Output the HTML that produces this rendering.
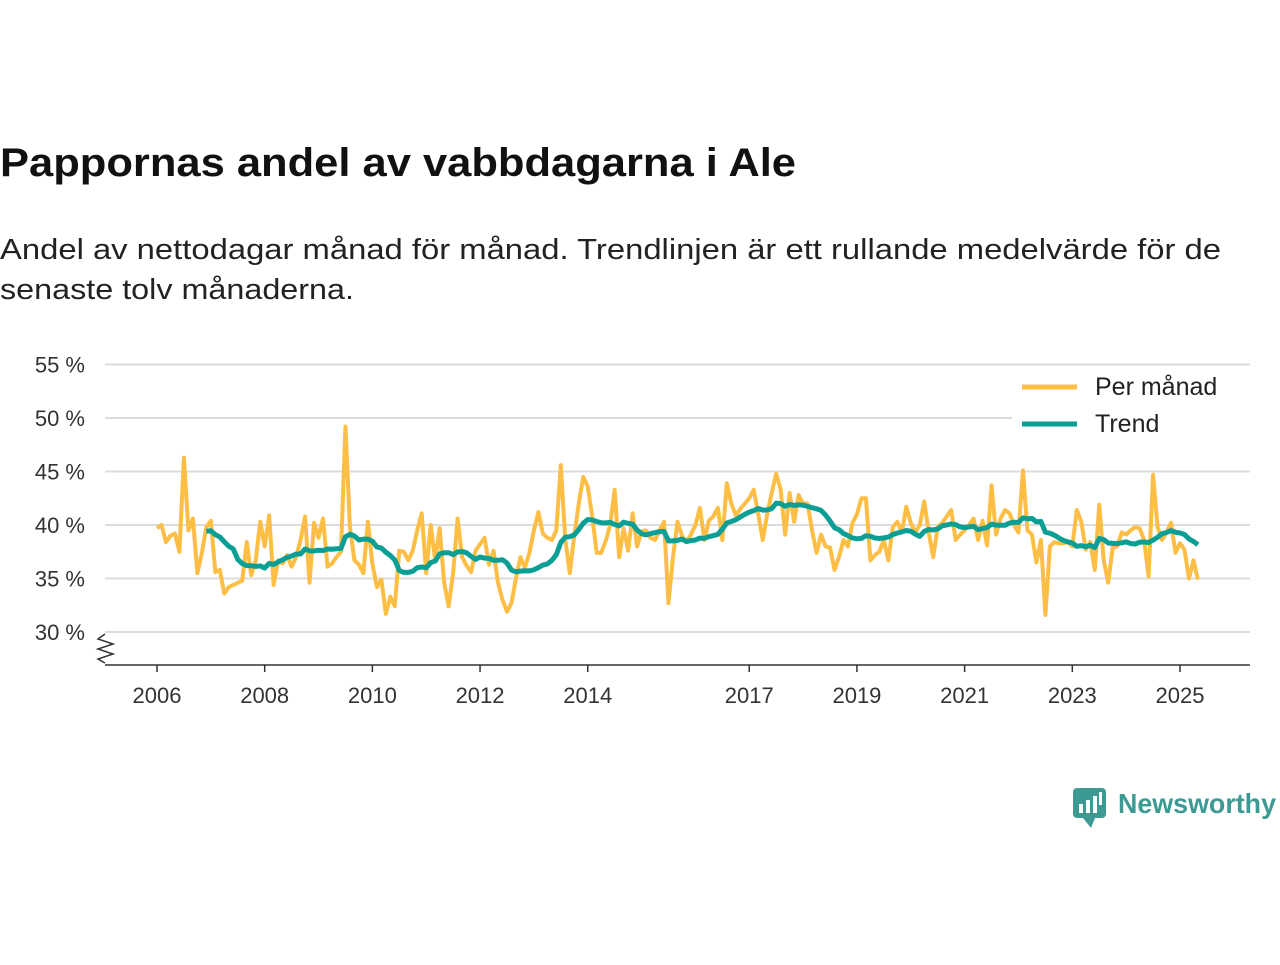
<!DOCTYPE html>
<html><head><meta charset="utf-8"><style>
body{margin:0;background:#fff;width:1280px;height:960px;overflow:hidden}
svg text{font-family:"Liberation Sans",sans-serif}
</style></head><body>
<svg id="chart" width="1280" height="960" xmlns="http://www.w3.org/2000/svg">
<text x="0" y="176" font-size="40" font-weight="bold" fill="#111" textLength="796" lengthAdjust="spacingAndGlyphs">Pappornas andel av vabbdagarna i Ale</text>
<text x="0" y="259" font-size="29" fill="#222" textLength="1221" lengthAdjust="spacingAndGlyphs">Andel av nettodagar månad för månad. Trendlinjen är ett rullande medelvärde för de</text>
<text x="0" y="299" font-size="29" fill="#222" textLength="354" lengthAdjust="spacingAndGlyphs">senaste tolv månaderna.</text>
<g id="grid"></g>
<g id="yticks"></g>
<g id="xaxis"></g>
<polyline points="105,634 98,639 113,644 98,649 113,654 98,659 105,663" fill="none" stroke="#333" stroke-width="1.5"/>
<g id="series"></g>
<g>
<rect x="1012" y="366" width="238" height="78" fill="#fff"/>
<line x1="1022" y1="387" x2="1077" y2="387" stroke="#fdbe45" stroke-width="5"/>
<text x="1095" y="395" font-size="25" fill="#222">Per månad</text>
<line x1="1022" y1="424" x2="1077" y2="424" stroke="#0a9e94" stroke-width="5"/>
<text x="1095" y="432" font-size="25" fill="#222">Trend</text>
</g>
<g>
<rect x="1073" y="788" width="33" height="30" rx="4" fill="#3d9a93"/>
<polygon points="1083,818 1091,828 1095,818" fill="#3d9a93"/>
<rect x="1079" y="804" width="4" height="9" fill="#fff"/><rect x="1086" y="800" width="4" height="13" fill="#fff"/><rect x="1093" y="796" width="4" height="17" fill="#fff"/><rect x="1099" y="792" width="3" height="13" fill="#fff"/>
<text x="1118" y="813" font-size="28" font-weight="bold" fill="#3d9a93" textLength="158" lengthAdjust="spacingAndGlyphs">Newsworthy</text>
</g>
</svg>
<script>
const yTicks=[30,35,40,45,50,55];
const yTickLabels=["30 %","35 %","40 %","45 %","50 %","55 %"];
const xTickYears=[2006,2008,2010,2012,2014,2017,2019,2021,2023,2025];
const startYear=2006;
const perMonth=[39.7,40.0,38.4,39.0,39.2,37.5,46.3,39.5,40.6,35.5,37.4,39.8,
40.4,35.6,35.8,33.6,34.2,34.4,34.6,34.8,38.4,35.3,36.7,40.3,
38.0,40.9,34.4,36.7,36.4,37.2,36.1,37.0,38.6,40.8,34.6,40.2,
38.8,40.6,36.1,36.4,37.0,37.5,49.2,39.8,36.7,36.3,35.5,40.3,
36.4,34.2,34.9,31.7,33.3,32.4,37.6,37.5,36.7,37.6,39.5,41.1,
35.5,40.0,36.7,39.7,34.6,32.4,35.5,40.6,37.0,36.2,35.6,37.6,
38.2,38.8,36.3,37.6,34.6,33.0,31.9,32.7,35.0,37.0,36.0,37.4,
39.5,41.2,39.2,38.8,38.6,39.5,45.6,38.6,35.5,39.0,42.0,44.5,
43.6,40.8,37.4,37.4,38.5,40.0,43.3,37.0,39.7,37.6,41.1,38.0,
39.4,39.5,38.8,38.6,39.5,40.3,32.7,37.0,40.3,39.0,38.4,39.1,
40.0,41.6,38.6,40.4,40.8,41.6,38.6,43.9,42.0,40.9,41.5,42.0,
42.5,43.3,41.0,38.6,41.0,43.0,44.8,43.3,39.1,43.0,40.3,42.8,
42.0,42.0,39.5,37.4,39.1,38.0,37.9,35.8,37.0,38.6,38.0,40.2,
41.0,42.5,42.5,36.7,37.2,37.5,38.6,36.7,39.8,40.3,39.3,41.7,
40.2,39.3,40.0,42.2,39.3,37.0,39.8,40.2,40.8,41.4,38.6,39.1,
39.5,40.0,40.6,38.6,40.4,38.1,43.7,39.1,40.6,41.4,41.1,40.0,
39.3,45.1,39.5,39.1,36.5,38.6,31.6,38.0,38.4,38.3,38.3,38.4,
38.0,41.4,40.3,37.7,38.4,35.8,41.9,36.7,34.6,37.9,38.0,39.3,
39.1,39.5,39.8,39.7,38.6,35.2,44.7,39.8,38.6,39.3,40.2,37.4,
38.3,37.7,35.0,36.7,34.9];
const NS="http://www.w3.org/2000/svg";
const X0=157,PXM=(1180-157)/228;
function xScale(monthIndex){return X0+monthIndex*PXM;}
function yScale(v){return 525-(v-40)*10.7;}
function mk(tag,attrs,parent){const e=document.createElementNS(NS,tag);for(const k in attrs)e.setAttribute(k,attrs[k]);parent.appendChild(e);return e;}
const grid=document.getElementById('grid'),yt=document.getElementById('yticks'),xa=document.getElementById('xaxis'),series=document.getElementById('series');
yTicks.forEach((t,i)=>{
 const l=mk('line',{x1:105,x2:1250,y1:yScale(t),y2:yScale(t),stroke:'#dcdcdc','stroke-width':2},grid);
 
 
 const tx=mk('text',{x:85,y:yScale(t)+8,'text-anchor':'end','font-size':22,fill:'#333'},yt);
 tx.textContent=yTickLabels[i];
 
 
});
const ax=mk('line',{x1:105,x2:1250,y1:665,y2:665,stroke:'#333','stroke-width':1.5},xa);


xTickYears.forEach(y=>{
 const x=xScale((y-startYear)*12);
 const tk=mk('line',{x1:x,x2:x,y1:665,y2:672,stroke:'#333','stroke-width':1.5},xa);
 
 
 const tx=mk('text',{x:x,y:703,'text-anchor':'middle','font-size':22,fill:'#333'},xa);
 tx.textContent=y;
 
 
});
const pm=mk('polyline',{points:perMonth.map((v,i)=>xScale(i)+','+yScale(v)).join(' '),fill:'none',stroke:'#fdbe45','stroke-width':4,'stroke-linejoin':'round'},series);


const trend=[];
for(let i=11;i<perMonth.length;i++){let s=0;for(let j=i-11;j<=i;j++)s+=perMonth[j];trend.push([i,s/12]);}
const tr=mk('polyline',{points:trend.map(p=>xScale(p[0])+','+yScale(p[1])).join(' '),fill:'none',stroke:'#0a9e94','stroke-width':5,'stroke-linejoin':'round'},series);


</script>
</body></html>
